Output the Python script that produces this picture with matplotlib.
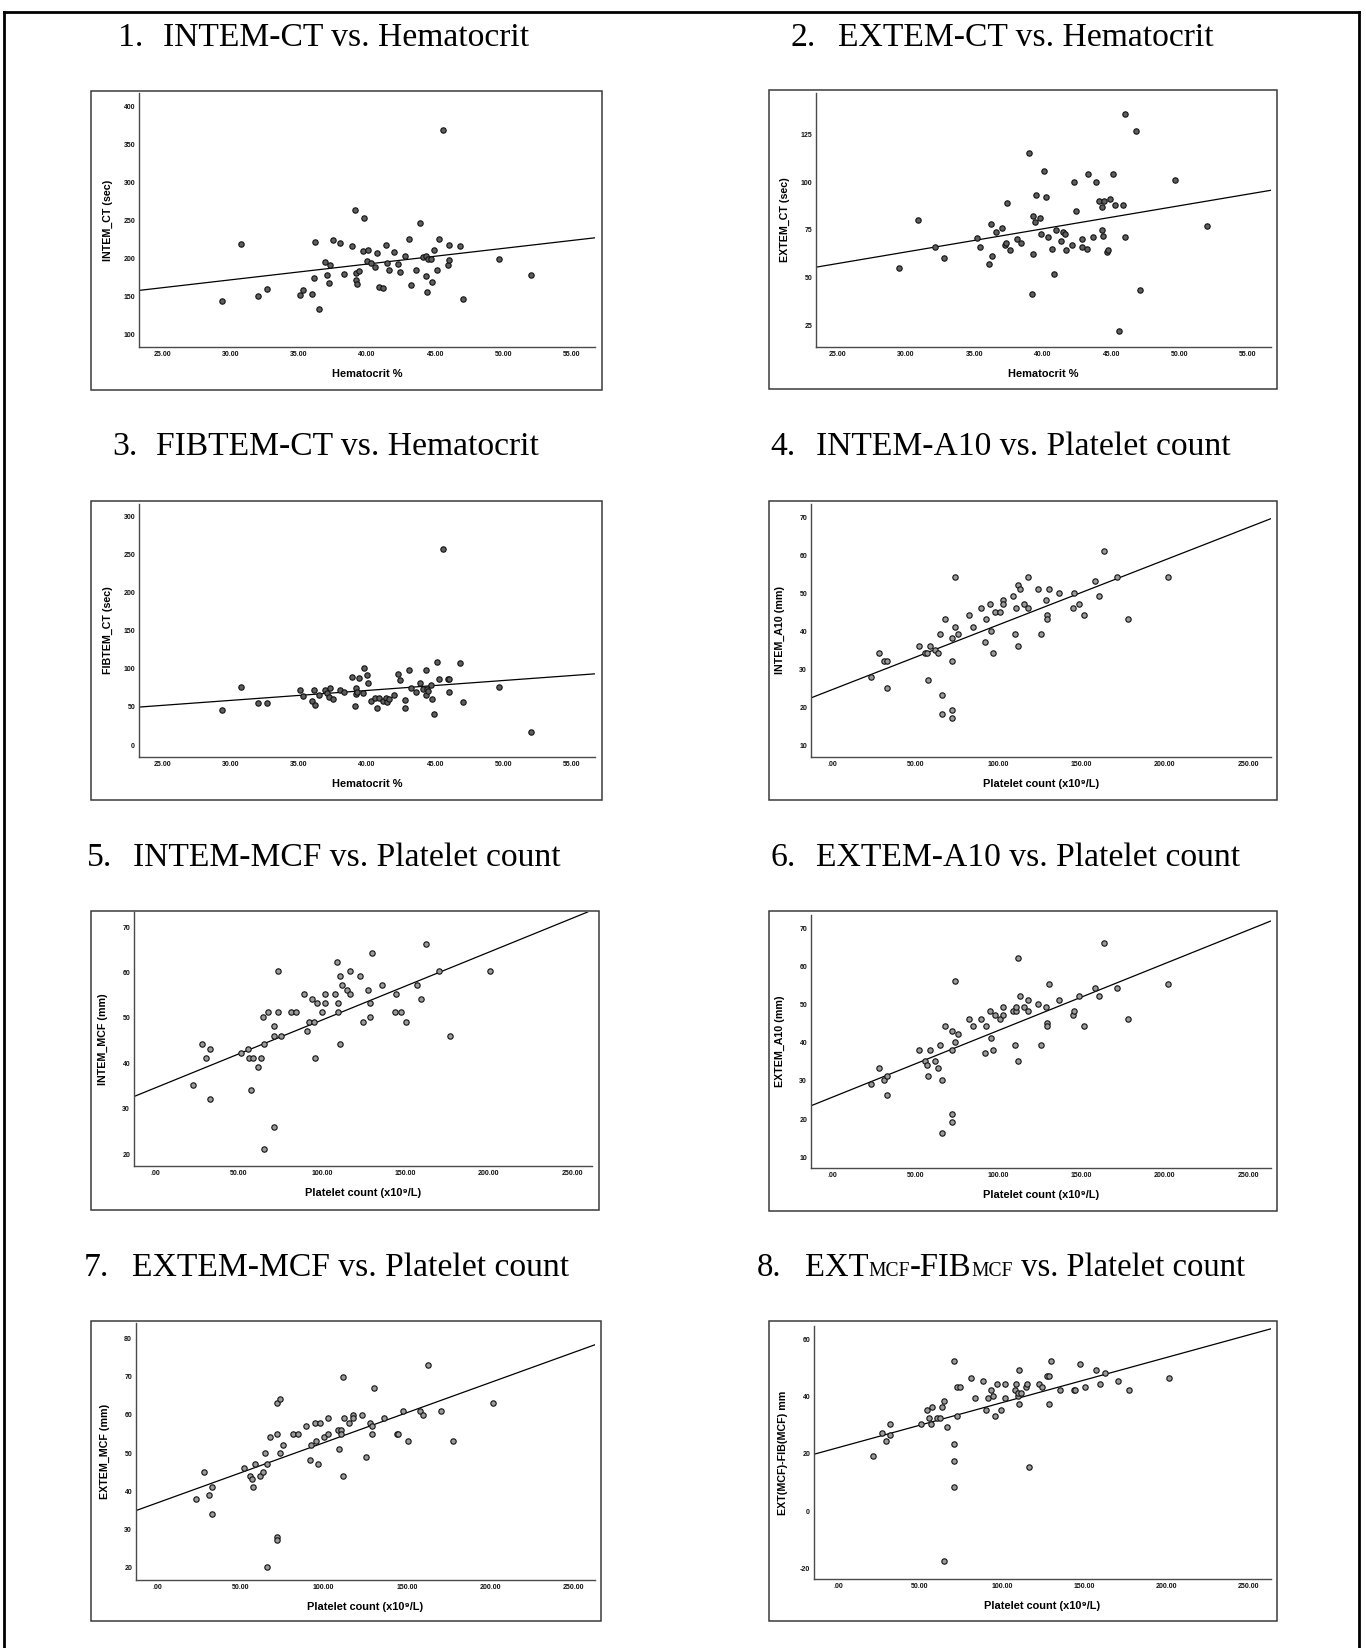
import matplotlib
matplotlib.use("Agg")
import matplotlib.pyplot as plt
from matplotlib.patches import Rectangle
from matplotlib.lines import Line2D

W, H = 1366, 1648
DPI = 100

# ---------------- data ----------------
p1_x = [29.4, 30.8, 32.0, 32.7, 35.1, 35.3, 36.0, 36.1, 36.2, 36.5,
        36.9, 37.1, 37.2, 37.3, 37.5, 38.0, 38.3, 38.9, 39.1, 39.2,
        39.2, 39.3, 39.4, 39.7, 39.8, 40.0, 40.1, 40.3, 40.6, 40.7,
        40.9, 41.2, 41.4, 41.5, 41.6, 42.0, 42.3, 42.4, 42.8, 43.1,
        43.2, 43.6, 43.9, 44.1, 44.3, 44.3, 44.4, 44.5, 44.7, 44.8,
        44.9, 45.1, 45.3, 45.6, 45.9, 46.0, 46.0, 46.8, 47.0, 49.7, 52.0]
p1_y = [143.8, 219.1, 149.9, 160.0, 151.7, 158.7, 153.0, 174.0, 221.3, 132.8,
        195.0, 177.9, 167.0, 191.9, 224.3, 220.0, 179.2, 216.0, 264.2, 181.0,
        171.0, 165.7, 183.2, 209.5, 253.3, 196.8, 210.8, 193.3, 188.0, 206.4,
        162.2, 161.3, 218.2, 194.1, 184.1, 208.2, 192.4, 182.3, 202.5, 225.7,
        165.2, 184.1, 246.3, 201.6, 176.2, 202.9, 156.0, 199.8, 199.8, 169.2,
        210.8, 184.1, 226.1, 368.5, 191.9, 217.4, 198.1, 216.0, 145.9, 199.8, 177.9]

p2_x = [29.5, 30.9, 32.1, 32.8, 35.2, 35.4, 36.1, 36.2, 36.3, 36.6,
        37.0, 37.2, 37.3, 37.4, 37.6, 38.1, 38.4, 39.0, 39.2, 39.3,
        39.3, 39.4, 39.5, 39.8, 39.9, 40.1, 40.2, 40.4, 40.7, 40.8,
        41.0, 41.3, 41.5, 41.6, 41.7, 42.1, 42.3, 42.4, 42.9, 42.9,
        43.2, 43.3, 43.7, 43.9, 44.1, 44.3, 44.3, 44.4, 44.5, 44.7,
        44.8, 44.9, 45.1, 45.3, 45.6, 45.9, 46.0, 46.0, 46.8, 47.1, 49.7, 52.0]
p2_y = [55.1, 80.1, 66.1, 60.1, 71.0, 66.1, 57.0, 78.1, 61.2, 74.1,
        76.0, 67.1, 68.0, 89.2, 64.2, 70.1, 68.0, 115.2, 41.1, 82.2,
        62.2, 79.0, 93.2, 81.1, 73.1, 106.1, 92.1, 71.2, 65.2, 52.1,
        75.2, 69.1, 74.1, 73.1, 64.2, 67.1, 100.2, 85.1, 70.1, 66.1,
        65.2, 104.2, 71.2, 100.2, 90.0, 87.1, 75.2, 72.0, 90.0, 63.2,
        64.2, 91.1, 104.2, 88.1, 22.0, 88.1, 136.0, 71.2, 127.1, 43.2, 101.0, 77.1]

p3_x = [29.4, 30.8, 32.0, 32.7, 35.1, 35.3, 36.0, 36.1, 36.2, 36.5,
        36.9, 37.1, 37.2, 37.3, 37.5, 38.0, 38.3, 38.9, 39.1, 39.2,
        39.2, 39.3, 39.4, 39.7, 39.8, 40.0, 40.1, 40.3, 40.6, 40.7,
        40.9, 41.2, 41.4, 41.5, 41.6, 42.0, 42.3, 42.4, 42.8, 42.8,
        43.1, 43.2, 43.6, 43.9, 44.1, 44.3, 44.3, 44.4, 44.5, 44.7,
        44.8, 44.9, 45.1, 45.3, 45.6, 45.9, 46.0, 46.0, 46.8, 47.0, 49.7, 52.0]
p3_y = [45.9, 76.0, 55.0, 55.0, 72.1, 63.8, 57.2, 72.1, 52.0, 65.9,
        72.1, 67.7, 62.9, 74.7, 60.7, 72.1, 69.0, 89.1, 51.1, 74.7,
        66.8, 69.0, 87.8, 68.1, 100.9, 91.7, 80.8, 57.6, 61.6, 48.0,
        61.6, 57.6, 61.6, 56.8, 60.7, 65.1, 93.0, 84.7, 58.9, 48.5,
        98.7, 74.7, 69.0, 80.8, 72.9, 98.7, 65.1, 72.9, 70.7, 78.2,
        60.7, 40.6, 108.7, 86.9, 256.8, 86.0, 86.0, 69.9, 107.0, 56.8, 76.0, 17.0]

p4_x = [23.4, 28.2, 31.1, 33.1, 33.1, 52.2, 56.1, 57.2, 58.0, 59.0,
        61.9, 64.0, 65.0, 65.9, 65.9, 67.9, 71.9, 71.9, 71.9, 71.9,
        73.9, 73.9, 76.0, 82.2, 84.7, 89.7, 91.8, 92.8, 94.9, 95.7,
        96.7, 97.8, 100.7, 102.7, 102.7, 108.7, 109.8, 110.8, 111.6, 111.6,
        112.7, 115.6, 117.6, 117.6, 123.7, 125.5, 128.6, 129.5, 129.5, 130.5,
        136.5, 144.6, 145.4, 148.5, 151.4, 158.2, 160.3, 163.2, 171.3, 178.1, 201.9]
p4_y = [28.1, 34.2, 32.2, 32.2, 25.2, 36.2, 34.2, 34.2, 27.2, 36.2,
        35.1, 34.2, 39.2, 23.2, 18.2, 43.2, 38.2, 32.2, 19.2, 17.2,
        54.2, 41.2, 39.2, 44.2, 41.2, 46.2, 37.2, 43.2, 47.1, 40.2,
        34.2, 45.2, 45.2, 48.2, 47.1, 49.2, 39.2, 46.2, 52.1, 36.2,
        51.2, 47.1, 54.2, 46.2, 51.2, 39.2, 48.2, 44.2, 43.2, 51.2,
        50.2, 46.2, 50.2, 47.1, 44.2, 53.2, 49.2, 61.2, 54.2, 43.2, 54.2]

p5_x = [23.0, 28.0, 30.8, 32.7, 32.7, 51.5, 55.5, 56.5, 57.5, 58.5,
        61.5, 63.5, 64.5, 65.5, 65.5, 67.5, 71.5, 71.5, 71.5, 73.5,
        73.5, 75.3, 81.5, 84.5, 89.3, 91.3, 92.3, 94.2, 95.2, 96.2,
        97.2, 100.0, 102.0, 102.0, 108.0, 109.0, 110.0, 110.0, 111.0, 111.0,
        112.0, 115.0, 117.0, 117.0, 123.0, 124.8, 127.8, 128.8, 128.8, 129.8,
        135.8, 143.6, 144.6, 147.6, 150.6, 157.3, 159.3, 162.3, 170.1, 177.1, 200.9]
p5_y = [35.2, 44.2, 41.2, 43.1, 32.2, 42.2, 43.1, 41.2, 34.1, 41.2,
        39.2, 41.2, 50.2, 44.2, 21.1, 51.2, 48.2, 46.1, 26.1, 60.3,
        51.2, 46.1, 51.2, 51.2, 55.2, 47.2, 49.2, 54.2, 49.2, 41.2,
        53.2, 51.2, 55.2, 53.2, 55.2, 62.2, 53.2, 51.2, 59.2, 44.2,
        57.2, 56.2, 60.3, 55.2, 59.2, 49.2, 56.2, 53.2, 50.2, 64.2,
        57.2, 51.2, 55.2, 51.2, 49.2, 57.2, 54.2, 66.3, 60.3, 46.1, 60.3]

p6_x = [23.4, 28.2, 31.1, 33.1, 33.1, 52.2, 56.1, 57.2, 58.0, 59.0,
        61.9, 64.0, 65.0, 65.9, 65.9, 67.9, 71.9, 71.9, 71.9, 71.9,
        73.9, 73.9, 76.0, 82.2, 84.7, 89.7, 91.8, 92.8, 94.9, 95.7,
        96.7, 97.8, 100.7, 102.7, 102.7, 108.7, 109.8, 110.8, 110.8, 111.6,
        111.6, 112.7, 115.6, 117.6, 117.6, 123.7, 125.5, 128.6, 129.5, 129.5,
        130.5, 136.5, 144.6, 145.4, 148.5, 151.4, 158.2, 160.3, 163.2, 171.3, 178.1, 201.9]
p6_y = [29.2, 33.3, 30.3, 31.2, 26.3, 38.2, 35.3, 34.3, 31.2, 38.2,
        35.3, 33.3, 39.3, 30.3, 16.3, 44.3, 43.2, 38.2, 21.3, 19.3,
        56.3, 40.3, 42.3, 46.3, 44.3, 46.3, 37.3, 44.3, 48.3, 41.3,
        38.2, 47.3, 46.3, 49.3, 47.3, 48.3, 39.3, 48.3, 49.3, 62.3,
        35.3, 52.2, 49.3, 51.3, 48.3, 50.2, 39.3, 49.3, 45.2, 44.3,
        55.3, 51.3, 47.3, 48.3, 52.2, 44.3, 54.3, 52.2, 66.2, 54.3, 46.3, 55.3]

p7_x = [23.2, 28.2, 31.0, 33.2, 33.2, 52.0, 55.8, 56.8, 57.8, 58.8,
        61.8, 63.8, 64.8, 65.8, 65.8, 67.8, 71.8, 71.8, 71.8, 71.8,
        73.8, 73.8, 75.8, 81.8, 84.6, 89.6, 91.6, 92.6, 94.6, 95.6,
        96.6, 97.6, 100.4, 102.4, 102.4, 108.4, 109.4, 110.4, 110.4, 111.4,
        111.4, 112.4, 115.4, 117.4, 117.4, 123.2, 125.2, 128.2, 129.2, 129.2,
        130.2, 136.2, 144.0, 145.0, 148.0, 151.0, 157.8, 159.8, 162.8, 170.8, 177.8, 201.6]
p7_y = [38.0, 45.1, 39.1, 41.1, 34.1, 46.1, 44.1, 43.1, 41.1, 47.1,
        44.1, 45.1, 50.1, 47.1, 20.1, 54.1, 63.1, 55.1, 28.1, 27.1,
        64.1, 50.1, 52.1, 55.1, 55.1, 57.1, 48.1, 52.1, 58.0, 53.1,
        47.1, 58.0, 54.1, 59.1, 55.1, 56.0, 51.0, 56.0, 55.1, 70.0,
        44.0, 59.1, 58.0, 60.1, 59.1, 60.1, 49.0, 58.0, 57.1, 55.1,
        67.1, 59.1, 55.1, 55.1, 61.1, 53.1, 61.1, 60.1, 73.1, 61.1, 53.1, 63.0]

p8_x = [21.4, 26.5, 29.4, 31.5, 31.5, 50.4, 54.4, 55.5, 56.5, 57.4,
        60.5, 62.4, 63.4, 64.5, 64.5, 66.4, 70.4, 70.4, 70.4, 70.4,
        72.5, 72.5, 74.4, 80.9, 83.6, 88.4, 90.5, 91.6, 93.5, 94.5,
        95.6, 96.6, 99.6, 101.7, 101.7, 107.6, 108.6, 109.7, 109.7, 110.5,
        110.5, 111.6, 114.5, 115.5, 116.6, 122.5, 124.6, 127.5, 128.6, 128.6,
        129.6, 135.5, 143.7, 144.5, 147.7, 150.6, 157.4, 159.9, 162.6, 170.6, 177.7, 201.7]
p8_y = [19.4, 27.4, 24.4, 30.5, 26.5, 30.5, 35.4, 32.4, 30.5, 36.4,
        32.4, 32.4, 36.4, 38.4, -17.5, 29.4, 52.4, 23.4, 17.4, 8.4,
        33.4, 43.4, 43.4, 46.5, 39.4, 45.4, 35.4, 39.4, 42.4, 40.4,
        33.4, 44.5, 35.4, 44.5, 39.4, 42.4, 44.5, 40.4, 41.4, 49.4,
        37.5, 41.4, 43.4, 44.5, 15.4, 44.5, 43.4, 47.4, 47.4, 37.5,
        52.4, 42.4, 42.4, 42.4, 51.4, 43.4, 49.4, 44.5, 48.4, 45.4, 42.4, 46.5]

# fit lines: intercept, slope
fit_intercept = [109.6, 27.0, 19.4, 24.65, 34.6, 25.7, 36.9, 22.2]
fit_slope = [2.071, 1.214, 1.305, 0.1706, 0.1492, 0.1753, 0.1578, 0.1573]

titles = ["INTEM-CT vs. Hematocrit", "EXTEM-CT vs. Hematocrit",
          "FIBTEM-CT vs. Hematocrit", "INTEM-A10 vs. Platelet count",
          "INTEM-MCF vs. Platelet count", "EXTEM-A10 vs. Platelet count",
          "EXTEM-MCF vs. Platelet count", None]
title8_runs = [("EXT", 1.0), ("MCF", 0.6), ("-FIB", 1.0), ("MCF", 0.6),
               (" vs. Platelet count", 1.0)]

ylabels = ["INTEM_CT (sec)", "EXTEM_CT (sec)", "FIBTEM_CT (sec)", "INTEM_A10 (mm)",
           "INTEM_MCF (mm)", "EXTEM_A10 (mm)", "EXTEM_MCF (mm)", "EXT(MCF)-FIB(MCF) mm"]
hct_label = "Hematocrit %"
plt_label = "Platelet count (x10\u2079/L)"

hct_ticks = [25, 30, 35, 40, 45, 50, 55]
hct_ticklabels = ["25.00", "30.00", "35.00", "40.00", "45.00", "50.00", "55.00"]
plt_ticks = [0, 50, 100, 150, 200, 250]
plt_ticklabels = [".00", "50.00", "100.00", "150.00", "200.00", "250.00"]

y_ticks = [[100, 150, 200, 250, 300, 350, 400],
           [25, 50, 75, 100, 125],
           [0, 50, 100, 150, 200, 250, 300],
           [10, 20, 30, 40, 50, 60, 70],
           [20, 30, 40, 50, 60, 70],
           [10, 20, 30, 40, 50, 60, 70],
           [20, 30, 40, 50, 60, 70, 80],
           [-20, 0, 20, 40, 60]]

xlims = [(23.29, 56.71), (23.41, 56.69), (23.29, 56.71), (-12.6, 263.5),
         (-12.6, 262.0), (-12.6, 263.5), (-12.6, 263.0), (-14.7, 263.7)]
ylims = [(83.4, 417.5), (13.5, 146.9), (-15.7, 316.2), (6.95, 73.5),
         (17.44, 73.3), (7.18, 73.5), (16.7, 84.1), (-23.7, 64.7)]

# ---------------- layout (pixel geometry) ----------------
axes_px = [(139, 93, 595, 347), (816, 93, 1271, 347),
           (139, 504, 595, 757), (811, 504, 1270.5, 757),
           (134, 912, 592, 1166), (811, 915, 1270.5, 1168),
           (136, 1323, 595, 1580), (814, 1326, 1270.5, 1579)]
box_px = [(91, 91, 602, 390), (769, 90, 1277, 389),
          (91, 501, 602, 800), (769, 501, 1277, 800),
          (91, 911, 599, 1210), (769, 911, 1277, 1211),
          (91, 1321, 601, 1621), (769, 1321, 1277, 1621)]
title_num_x = [118, 790, 112, 770, 87, 770, 84, 757]
title_txt_x = [163, 838, 156, 816, 133, 816, 132, 805]
title_base_y = [46, 46, 455, 455, 866, 866, 1276, 1276]

SANS = ["Liberation Sans", "DejaVu Sans"]
SERIF = ["Liberation Serif", "DejaVu Serif"]
TITLE_FS = 24.2
TITLE8_FS = 23.5

fig = plt.figure(figsize=(W / DPI, H / DPI), dpi=DPI)
fig.patch.set_facecolor("white")


def fx(x):
    return x / W


def fy(y):
    return 1 - y / H


# outer border (left, top, right)
for (xa, ya, xb, yb) in [(4, 1648, 4, 12), (4, 12, 1359, 12), (1359, 12, 1359, 1648)]:
    fig.add_artist(Line2D([fx(xa), fx(xb)], [fy(ya), fy(yb)], transform=fig.transFigure,
                          color="black", lw=2.0, solid_capstyle="projecting"))

xs = [p1_x, p2_x, p3_x, p4_x, p5_x, p6_x, p7_x, p8_x]
ys = [p1_y, p2_y, p3_y, p4_y, p5_y, p6_y, p7_y, p8_y]

renderer = fig.canvas.get_renderer()

for i in range(8):
    x0, y0, x1, y1 = axes_px[i]
    bx0, by0, bx1, by1 = box_px[i]
    fig.add_artist(Rectangle((fx(bx0), fy(by1)), fx(bx1 - bx0), (by1 - by0) / H,
                             transform=fig.transFigure, fill=False,
                             ec="#3a3a3a", lw=1.1))
    ax = fig.add_axes([fx(x0), fy(y1), fx(x1 - x0), (y1 - y0) / H])
    awp, ahp = x1 - x0, y1 - y0
    hct = i < 3
    fc = "#5e5e5e" if hct else "#9a9a9a"
    ax.scatter(xs[i], ys[i], s=15, facecolor=fc, edgecolor="#111111",
               linewidth=0.8, zorder=3, clip_on=False)
    ax.axline((0, fit_intercept[i]), slope=fit_slope[i], color="black", lw=0.9, zorder=2)
    ax.set_xlim(*xlims[i])
    ax.set_ylim(*ylims[i])
    if hct:
        ax.set_xticks(hct_ticks)
        ax.set_xticklabels(hct_ticklabels)
    else:
        ax.set_xticks(plt_ticks)
        ax.set_xticklabels(plt_ticklabels)
    ax.set_yticks(y_ticks[i])
    ax.set_yticklabels([str(v) for v in y_ticks[i]])
    for s in ["top", "right"]:
        ax.spines[s].set_visible(False)
    for s in ["left", "bottom"]:
        ax.spines[s].set_color("#4a4a4a")
        ax.spines[s].set_linewidth(1.0)
    ax.tick_params(axis="both", length=0, labelsize=5.0, colors="#111111")
    ax.tick_params(axis="x", pad=3.2)
    ax.tick_params(axis="y", pad=2.8)
    for lab in ax.get_xticklabels() + ax.get_yticklabels():
        lab.set_fontweight("bold")
        lab.set_family(SANS)
    ax.set_facecolor("none")
    ax.text(-31 / awp, 0.5, ylabels[i], transform=ax.transAxes, rotation=90,
            ha="center", va="center", fontsize=7.7, fontweight="bold", family=SANS)
    ax.text(0.5, -27 / ahp, hct_label if hct else plt_label, transform=ax.transAxes,
            ha="center", va="center", fontsize=7.9, fontweight="bold", family=SANS)

    # title
    fs = TITLE_FS if titles[i] is not None else TITLE8_FS
    fig.text(fx(title_num_x[i]), fy(title_base_y[i]), f"{i + 1}.", fontsize=fs,
             family=SERIF, ha="left", va="baseline")
    if titles[i] is not None:
        fig.text(fx(title_txt_x[i]), fy(title_base_y[i]), titles[i], fontsize=fs,
                 family=SERIF, ha="left", va="baseline")
    else:
        cx = title_txt_x[i]
        for txt, scale in title8_runs:
            t = fig.text(fx(cx), fy(title_base_y[i]), txt, fontsize=fs * scale,
                         family=SERIF, ha="left", va="baseline")
            bb = t.get_window_extent(renderer=renderer)
            cx += bb.width

fig.savefig("out.png", dpi=DPI, facecolor="white")
